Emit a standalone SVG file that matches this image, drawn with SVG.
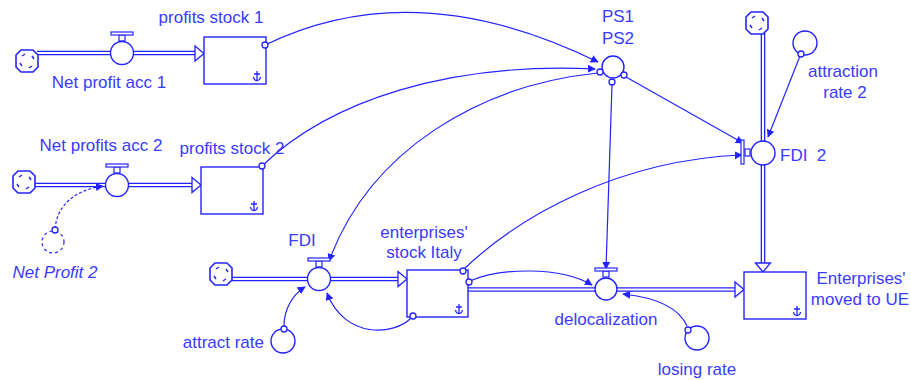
<svg xmlns="http://www.w3.org/2000/svg" width="911" height="380" viewBox="0 0 911 380">
  <style>
    .lbl { font-family: "Liberation Sans", Arial, sans-serif; font-size: 17px; fill: #3a3aff; }
    .mid { text-anchor: middle; }
    .end { text-anchor: end; }
    .ln { fill: none; stroke: #2323ff; stroke-width: 1.2; }
    .link { fill: none; stroke: #2323ff; stroke-width: 1.2; marker-end: url(#tip); }
    .shape { fill: #fff; stroke: #2323ff; stroke-width: 1.4; }
    .pipeO { fill: none; stroke: #2323ff; stroke-width: 4.6; }
    .pipeI { fill: none; stroke: #fff; stroke-width: 2; }
    .head { fill: #fff; stroke: #2323ff; stroke-width: 1.3; stroke-linejoin: miter; }
    .port { fill: #fff; stroke: #2323ff; stroke-width: 1.3; }
  </style>
  <defs>
    <marker id="tip" viewBox="0 0 10 10" refX="9" refY="5" markerWidth="8" markerHeight="8" markerUnits="userSpaceOnUse" orient="auto">
      <path d="M0,0 L10,5 L0,10 z" fill="#2323ff"/>
    </marker>
    <!-- source / sink cloud -->
    <g id="cloud">
      <path d="M-6,-11 H6 L11,-6 V6 L6,11 H-6 L-11,6 V-6 z" fill="#fff" stroke="#2323ff" stroke-width="1.6" stroke-linejoin="round"/>
      <path d="M-5,-5 l3,-2 M5,-5 l2,3 M5,5 l-3,2 M-5,5 l-2,-3" stroke="#2323ff" stroke-width="1.4" fill="none"/>
    </g>
    <!-- stock marker glyph -->
    <g id="glyph">
      <path d="M-3,-3 H3 M0,-6 V3 M-3.5,0 Q-3,3.5 0,3.5 Q3,3.5 3.5,0" stroke="#2323ff" stroke-width="1.3" fill="none"/>
    </g>
    <!-- valve handle for a horizontal pipe -->
    <g id="handleH">
      <rect x="-3" y="-18" width="6" height="6" fill="#fff" stroke="#2323ff" stroke-width="1.2"/>
      <rect x="-11" y="-21" width="22" height="3" fill="#fff" stroke="#2323ff" stroke-width="1.2"/>
    </g>
  </defs>

  <!-- flow pipes -->
  <g id="flows">
    <path class="pipeO" d="M37,53 H196"/>
    <path class="pipeI" d="M37,53 H196"/>
    <polygon class="head" points="195,46 204,53.5 195,61"/>

    <path class="pipeO" d="M35,185 H193"/>
    <path class="pipeI" d="M35,185 H193"/>
    <polygon class="head" points="192,177.5 201,185 192,192.5"/>

    <path class="pipeO" d="M232,279 H399"/>
    <path class="pipeI" d="M232,279 H399"/>
    <polygon class="head" points="398,271.5 407,279 398,286.5"/>

    <path class="pipeO" d="M468,289.5 H736"/>
    <path class="pipeI" d="M468,289.5 H736"/>
    <polygon class="head" points="735,282 744,289.5 735,297"/>

    <path class="pipeO" d="M763,33 V264"/>
    <path class="pipeI" d="M763,33 V264"/>
    <polygon class="head" points="755.5,263 763,272 770.5,263"/>
  </g>

  <!-- connectors -->
  <g id="connectors">
    <path class="link" d="M265,45 Q415,-28 598,62"/>
    <path class="link" d="M262,166 C330,100 450,62 595,69"/>
    <path class="link" d="M598,73 C480,85 370,150 329,261"/>
    <path class="link" d="M55,229 C57,205 75,190 103,186" stroke-dasharray="3,2"/>
    <path class="link" d="M284,326 C284,310 292,295 305,287"/>
    <path class="link" d="M411,318 C395,335 345,340 327,293"/>
    <path class="link" d="M470,281 C500,268 560,266 592,285"/>
    <path class="link" d="M463,270 C520,215 620,160 742,155"/>
    <path class="link" d="M612,85 L606,269"/>
    <path class="link" d="M626,77 L743,143"/>
    <path class="link" d="M800,56 L768,137"/>
    <path class="link" d="M687,326 C680,310 660,298 623,294"/>
  </g>

  <!-- clouds -->
  <g id="cloud1"><use href="#cloud" x="27" y="61"/></g>
  <g id="cloud2"><use href="#cloud" x="24" y="182"/></g>
  <g id="cloud3"><use href="#cloud" x="221" y="274"/></g>
  <g id="cloud4"><use href="#cloud" x="757" y="23"/></g>

  <!-- Net profit acc 1 -->
  <g id="net-profit-acc-1">
    <use href="#handleH" x="122" y="53"/>
    <circle class="shape" cx="122" cy="53" r="11.5"/>
    <text class="lbl mid" x="109" y="88">Net profit acc 1</text>
  </g>

  <!-- profits stock 1 -->
  <g id="profits-stock-1">
    <rect class="shape" x="204" y="37" width="62" height="47"/>
    <use href="#glyph" x="257" y="77"/>
    <circle class="port" cx="265" cy="45" r="3"/>
    <text class="lbl mid" x="211" y="23">profits stock 1</text>
  </g>

  <!-- Net profits acc 2 -->
  <g id="net-profits-acc-2">
    <use href="#handleH" x="117" y="185"/>
    <circle class="shape" cx="117" cy="185" r="11.5"/>
    <text class="lbl mid" x="101" y="151">Net profits acc 2</text>
  </g>

  <!-- profits stock 2 -->
  <g id="profits-stock-2">
    <rect class="shape" x="201" y="167" width="62" height="47"/>
    <use href="#glyph" x="254" y="207"/>
    <circle class="port" cx="262" cy="166" r="3"/>
    <text class="lbl mid" x="232" y="154">profits stock 2</text>
  </g>

  <!-- Net Profit 2 (shadow variable) -->
  <g id="net-profit-2">
    <circle cx="53" cy="242" r="11" fill="none" stroke="#2323ff" stroke-width="1.2" stroke-dasharray="3,3"/>
    <circle class="port" cx="55" cy="230" r="3"/>
    <text class="lbl mid" x="55" y="278" font-style="italic">Net Profit 2</text>
  </g>

  <!-- FDI -->
  <g id="fdi">
    <use href="#handleH" x="319" y="279"/>
    <circle class="shape" cx="319" cy="279" r="11.5"/>
    <text class="lbl mid" x="302" y="246">FDI</text>
  </g>

  <!-- enterprises' stock Italy -->
  <g id="enterprises-stock-italy">
    <rect class="shape" x="407" y="270" width="61" height="47"/>
    <use href="#glyph" x="459" y="310"/>
    <circle class="port" cx="463" cy="271" r="3"/>
    <circle class="port" cx="469" cy="282" r="3"/>
    <circle class="port" cx="413" cy="316" r="3"/>
    <text class="lbl mid" x="424" y="238">enterprises'</text>
    <text class="lbl mid" x="424" y="258">stock Italy</text>
  </g>

  <!-- attract rate -->
  <g id="attract-rate">
    <circle class="shape" cx="283" cy="341" r="12"/>
    <circle class="port" cx="284" cy="329" r="3"/>
    <text class="lbl end" x="264" y="348">attract rate</text>
  </g>

  <!-- PS1 / PS2 -->
  <g id="ps">
    <circle class="shape" cx="613" cy="67" r="11"/>
    <circle class="port" cx="600" cy="72" r="3"/>
    <circle class="port" cx="612" cy="82" r="3"/>
    <circle class="port" cx="624" cy="75" r="3"/>
    <text class="lbl mid" x="618" y="22">PS1</text>
    <text class="lbl mid" x="618" y="44">PS2</text>
  </g>

  <!-- attraction rate 2 -->
  <g id="attraction-rate-2">
    <circle class="shape" cx="805" cy="43" r="12"/>
    <circle class="port" cx="801" cy="54" r="3"/>
    <text class="lbl mid" x="843" y="77">attraction</text>
    <text class="lbl mid" x="845" y="98">rate 2</text>
  </g>

  <!-- FDI 2 (vertical flow valve) -->
  <g id="fdi-2">
    <rect x="745" y="149" width="5" height="7" fill="#fff" stroke="#2323ff" stroke-width="1.2"/>
    <rect x="741" y="140" width="3" height="24" fill="#fff" stroke="#2323ff" stroke-width="1.2"/>
    <circle class="shape" cx="763" cy="153" r="12"/>
    <text class="lbl" x="780" y="161" xml:space="preserve">FDI  2</text>
  </g>

  <!-- delocalization -->
  <g id="delocalization">
    <use href="#handleH" x="606" y="289"/>
    <circle class="shape" cx="606" cy="289" r="11"/>
    <text class="lbl mid" x="606" y="325">delocalization</text>
  </g>

  <!-- losing rate -->
  <g id="losing-rate">
    <circle class="shape" cx="697" cy="338" r="12"/>
    <circle class="port" cx="688" cy="330" r="3"/>
    <text class="lbl mid" x="697" y="375">losing rate</text>
  </g>

  <!-- Enterprises' moved to UE -->
  <g id="enterprises-moved-to-ue">
    <rect class="shape" x="744" y="272" width="62" height="47"/>
    <use href="#glyph" x="797" y="312"/>
    <text class="lbl mid" x="861" y="284">Enterprises'</text>
    <text class="lbl mid" x="860" y="305">moved to UE</text>
  </g>
</svg>
